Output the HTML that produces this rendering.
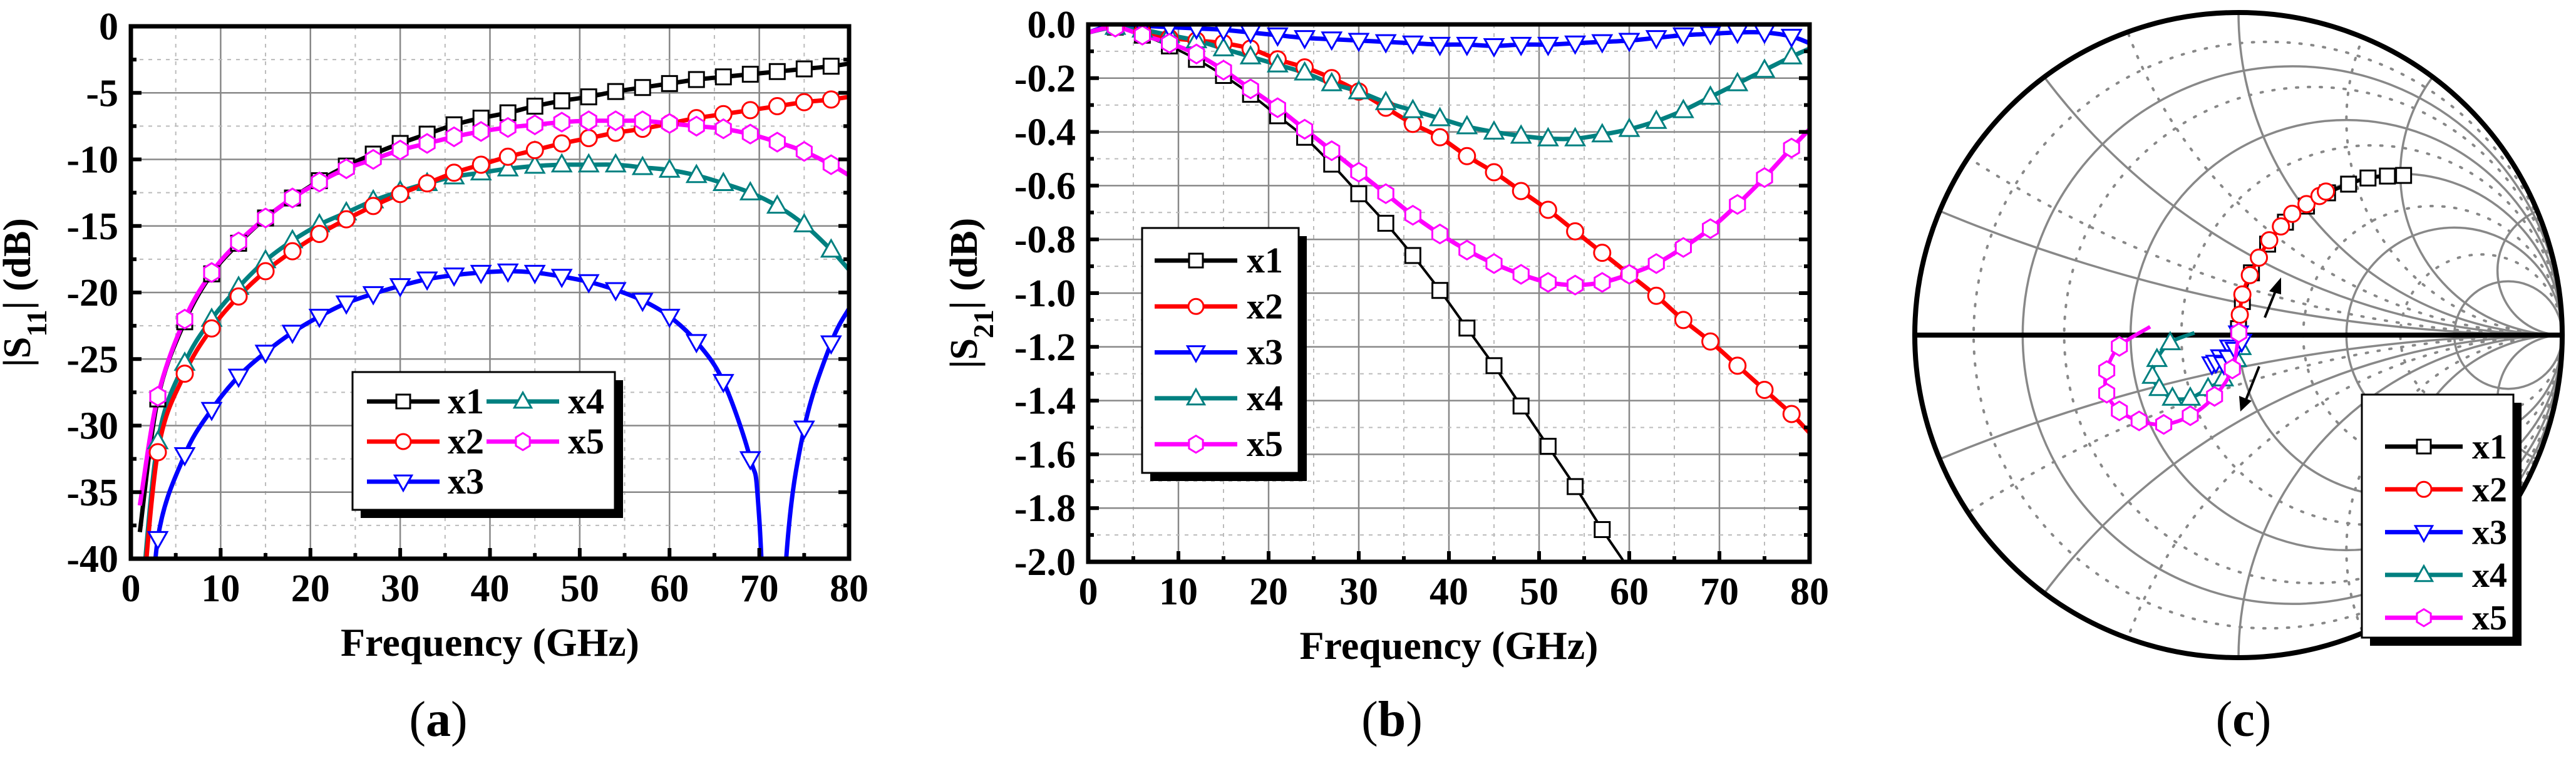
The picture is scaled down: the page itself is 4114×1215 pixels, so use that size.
<!DOCTYPE html>
<html><head><meta charset="utf-8"><style>
html,body{margin:0;padding:0;background:#fff;width:4114px;height:1215px;overflow:hidden;}
svg{display:block;font-family:"Liberation Serif","DejaVu Serif",serif;}
</style></head><body>
<svg id="fig" width="4114" height="1215" viewBox="0 0 4114 1215" xmlns="http://www.w3.org/2000/svg">
<defs>
<clipPath id="clipA"><rect x="209" y="42" width="1147" height="850"/></clipPath>
<clipPath id="clipB"><rect x="1738" y="39" width="1152" height="858"/></clipPath>
<clipPath id="clipC"><ellipse cx="3575" cy="535" rx="517" ry="515"/></clipPath>
</defs>
<g id="chartA"></g>
<g id="chartB"></g>
<g id="chartC"></g>
<text x="700" y="1175" font-size="80" text-anchor="middle">(<tspan font-weight="bold">a</tspan>)</text>
<text x="2223" y="1175" font-size="80" text-anchor="middle">(<tspan font-weight="bold">b</tspan>)</text>
<text x="3583" y="1175" font-size="80" text-anchor="middle">(<tspan font-weight="bold">c</tspan>)</text>
</svg>
<script>
// ---------- data ----------
const seriesNames = ["x1","x2","x3","x4","x5"];
const seriesColors = ["#000000","#ff0000","#0000ff","#008080","#ff00ff"];
const seriesMarkers = ["square","circle","down","up","hex"];

const freqA = [1,3,6,9,12,15,18,21,24,27,30,33,36,39,42,45,48,51,54,57,60,63,66,69,72,75,78,80];
const s11_x1 = [-38,-28,-22.2,-18.6,-16.3,-14.4,-12.9,-11.6,-10.5,-9.6,-8.8,-8.1,-7.4,-6.9,-6.5,-6.0,-5.6,-5.3,-4.9,-4.6,-4.3,-4.0,-3.8,-3.6,-3.4,-3.2,-3.0,-2.8];
const s11_x2 = [-46,-32,-26.1,-22.7,-20.3,-18.4,-16.9,-15.6,-14.5,-13.5,-12.6,-11.8,-11.0,-10.4,-9.8,-9.3,-8.8,-8.4,-8.0,-7.7,-7.3,-6.9,-6.6,-6.3,-6.0,-5.7,-5.5,-5.3];
const s11_x4 = [-45,-31.2,-25.3,-22.0,-19.6,-17.6,-16.1,-14.9,-14.0,-13.1,-12.4,-11.8,-11.3,-11.0,-10.7,-10.5,-10.4,-10.4,-10.4,-10.6,-10.8,-11.2,-11.8,-12.5,-13.5,-14.9,-16.8,-18.3];
const s11_x5 = [-36,-27.8,-22.0,-18.5,-16.2,-14.4,-12.9,-11.7,-10.7,-10.0,-9.3,-8.8,-8.3,-7.9,-7.6,-7.4,-7.2,-7.1,-7.1,-7.1,-7.3,-7.5,-7.7,-8.1,-8.7,-9.4,-10.4,-11.2];
const freqA3 = [2,3,6,9,12,15,18,21,24,27,30,33,36,39,42,45,48,51,54,57,60,63,66,69,70,71.8,73,75,78,80];
const s11_x3 = [-50,-38.5,-32.2,-28.8,-26.3,-24.5,-23.0,-21.8,-20.8,-20.1,-19.5,-19.0,-18.7,-18.5,-18.4,-18.5,-18.8,-19.2,-19.8,-20.6,-21.8,-23.7,-26.7,-32.5,-37,-60,-40,-30.2,-23.8,-21.2];
const yTicksA = [0,-5,-10,-15,-20,-25,-30,-35,-40];
const xTicks = [0,10,20,30,40,50,60,70,80];

const freqB = [0,3,6,9,12,15,18,21,24,27,30,33,36,39,42,45,48,51,54,57,60,63,66,69,72,75,78,80];
const s21_x1 = [-0.03,-0.01,-0.04,-0.08,-0.13,-0.19,-0.26,-0.34,-0.42,-0.52,-0.63,-0.74,-0.86,-0.99,-1.13,-1.27,-1.42,-1.57,-1.72,-1.88,-2.03,-2.2,-2.37,-2.55,-2.72,-2.9,-3.1,-3.2];
const s21_x2 = [-0.03,-0.01,-0.03,-0.05,-0.06,-0.07,-0.09,-0.13,-0.16,-0.2,-0.25,-0.31,-0.37,-0.42,-0.49,-0.55,-0.62,-0.69,-0.77,-0.85,-0.93,-1.01,-1.1,-1.18,-1.27,-1.36,-1.45,-1.52];
const s21_x3 = [-0.03,0,-0.005,-0.01,-0.015,-0.02,-0.03,-0.04,-0.05,-0.055,-0.06,-0.065,-0.07,-0.075,-0.075,-0.08,-0.075,-0.075,-0.07,-0.065,-0.06,-0.05,-0.04,-0.035,-0.03,-0.03,-0.045,-0.07];
const s21_x4 = [-0.03,-0.01,-0.02,-0.04,-0.06,-0.09,-0.12,-0.15,-0.18,-0.22,-0.25,-0.29,-0.32,-0.35,-0.38,-0.4,-0.415,-0.425,-0.425,-0.41,-0.39,-0.36,-0.32,-0.27,-0.22,-0.17,-0.12,-0.09];
const s21_x5 = [-0.03,-0.01,-0.04,-0.07,-0.11,-0.17,-0.24,-0.31,-0.39,-0.47,-0.55,-0.63,-0.71,-0.78,-0.84,-0.89,-0.93,-0.96,-0.97,-0.96,-0.93,-0.89,-0.83,-0.76,-0.67,-0.57,-0.46,-0.39];
const yTicksB = ["0.0","-0.2","-0.4","-0.6","-0.8","-1.0","-1.2","-1.4","-1.6","-1.8","-2.0"];

// Smith chart reflection coefficient (real, imag)
const g1_re = [0.0,0.012,0.04,0.09,0.145,0.21,0.275,0.34,0.40,0.46,0.51];
const g1_im = [0.02,0.104,0.193,0.282,0.35,0.40,0.441,0.468,0.487,0.493,0.495];
const g2_re = [0.0,0.004,0.012,0.035,0.063,0.095,0.131,0.166,0.21,0.25,0.27];
const g2_im = [0.02,0.063,0.126,0.186,0.24,0.294,0.337,0.376,0.406,0.431,0.445];
const g3_re = [0.0,-0.027,-0.055,-0.082,-0.07,-0.045,-0.03,-0.01,0.01];
const g3_im = [0.006,-0.038,-0.068,-0.09,-0.085,-0.09,-0.07,-0.045,-0.02];
const g4_re = [-0.136,-0.211,-0.252,-0.266,-0.245,-0.204,-0.149,-0.094,-0.047,-0.006,0.008];
const g4_im = [0.007,-0.023,-0.075,-0.127,-0.165,-0.195,-0.195,-0.165,-0.135,-0.075,-0.038];
const g5_re = [-0.273,-0.368,-0.407,-0.407,-0.368,-0.307,-0.231,-0.149,-0.074,-0.019,0.001];
const g5_im = [0.026,-0.035,-0.11,-0.18,-0.235,-0.266,-0.277,-0.25,-0.19,-0.105,0.007];
const smithSolidR = [0.2,0.5,1,2,5];
const smithDotR = [0.1,0.3,0.7,1.5,3];
const smithSolidX = [0.2,0.5,1,2,5];
const smithDotX = [0.3,0.7,1.5];

// ---------- helpers ----------
const NS="http://www.w3.org/2000/svg";
function mk(tag,attrs,parent){const e=document.createElementNS(NS,tag);for(const k in attrs)e.setAttribute(k,attrs[k]);if(parent)parent.appendChild(e);return e;}
function smoothPath(pts){
  if(pts.length<2)return "";
  let d="M"+pts[0][0].toFixed(1)+","+pts[0][1].toFixed(1);
  for(let i=0;i<pts.length-1;i++){
    const p0=pts[Math.max(0,i-1)],p1=pts[i],p2=pts[i+1],p3=pts[Math.min(pts.length-1,i+2)];
    const c1=[p1[0]+(p2[0]-p0[0])/6,p1[1]+(p2[1]-p0[1])/6];
    const c2=[p2[0]-(p3[0]-p1[0])/6,p2[1]-(p3[1]-p1[1])/6];
    d+="C"+c1[0].toFixed(1)+","+c1[1].toFixed(1)+" "+c2[0].toFixed(1)+","+c2[1].toFixed(1)+" "+p2[0].toFixed(1)+","+p2[1].toFixed(1);
  }
  return d;
}
function marker(parent,type,x,y,color,s){
  let e;
  if(type==="square")e=mk("rect",{x:x-s/2,y:y-s/2,width:s,height:s},parent);
  else if(type==="circle")e=mk("circle",{cx:x,cy:y,r:s/2+1},parent);
  else if(type==="down")e=mk("polygon",{points:`${x-s*0.62},${y-s*0.45} ${x+s*0.62},${y-s*0.45} ${x},${y+s*0.65}`},parent);
  else if(type==="up")e=mk("polygon",{points:`${x-s*0.62},${y+s*0.45} ${x+s*0.62},${y+s*0.45} ${x},${y-s*0.65}`},parent);
  else {let p=[];for(let k=0;k<6;k++){const a=Math.PI/6+k*Math.PI/3;p.push((x+s*0.58*Math.cos(a)).toFixed(1)+","+(y+s*0.62*Math.sin(a)).toFixed(1));}
        e=mk("polygon",{points:p.join(" ")},parent);}
  e.setAttribute("fill","#fff");e.setAttribute("stroke",color);e.setAttribute("stroke-width","3");
  
  
  return e;
}

// ---------- cartesian chart ----------
function cartesian(g,o){
  const X=v=>o.x0+(v-o.xmin)/(o.xmax-o.xmin)*(o.x1-o.x0);
  const Y=v=>o.y0+(o.ymax-v)/(o.ymax-o.ymin)*(o.y1-o.y0);
  const grid=mk("g",{},g);
  
  
  for(let v=o.xmin;v<=o.xmax+1e-9;v+=o.xminor){
    const major=Math.abs((v/o.xmajor)-Math.round(v/o.xmajor))<1e-6;
    if(v===o.xmin||v===o.xmax)continue;
    mk("line",{x1:X(v),x2:X(v),y1:o.y0,y2:o.y1,stroke:major?"#888":"#bbb","stroke-width":major?2.5:2,"stroke-dasharray":major?"none":"6,8"},grid);
  }
  const ny=Math.round((o.ymax-o.ymin)/o.yminor);
  for(let i=1;i<ny;i++){
    const v=o.ymax-i*o.yminor;const major=i%2===0;
    mk("line",{x1:o.x0,x2:o.x1,y1:Y(v),y2:Y(v),stroke:major?"#888":"#bbb","stroke-width":major?2.5:2,"stroke-dasharray":major?"none":"6,8"},grid);
  }
  const sg=mk("g",{"clip-path":`url(#${o.clip})`},g);
  o.series.forEach((s)=>{
    const pts=s.f.map((f,i)=>[X(f),Y(s.v[i])]);
    const p=mk("path",{d:smoothPath(pts),fill:"none",stroke:seriesColors[s.idx],"stroke-width":s.w||7,"stroke-linejoin":"round"},sg);
    
    
  });
  o.series.forEach(s=>{
    s.f.forEach((f,i)=>{
      if(f%3!==0||f===0)return;const v=s.v[i];if(v<o.ymin||v>o.ymax)return;
      marker(sg,seriesMarkers[s.idx],X(f),Y(v),seriesColors[s.idx],24);
    });
  });
  const ax=mk("g",{},g);
  
  
  mk("rect",{x:o.x0,y:o.y0,width:o.x1-o.x0,height:o.y1-o.y0,fill:"none",stroke:"#000","stroke-width":7},ax);
  for(let v=o.xmin;v<=o.xmax+1e-9;v+=o.xminor){
    const major=Math.abs((v/o.xmajor)-Math.round(v/o.xmajor))<1e-6;
    mk("line",{x1:X(v),x2:X(v),y1:o.y1,y2:o.y1-(major?17:9),stroke:"#000","stroke-width":6},ax);
  }
  for(let i=0;i<=ny;i++){
    const y=Y(o.ymax-i*o.yminor);const major=i%2===0;
    mk("line",{x1:o.x0,x2:o.x0+(major?17:9),y1:y,y2:y,stroke:"#000","stroke-width":6},ax);
    mk("line",{x1:o.x1,x2:o.x1-(major?17:9),y1:y,y2:y,stroke:"#000","stroke-width":6},ax);
  }
  xTicks.forEach(t=>{
    const e=mk("text",{x:X(t),y:o.y1+68,"font-size":62,"font-weight":"bold","text-anchor":"middle"},ax);e.textContent=t;
    
    
  });
  o.yTickLabels.forEach((t)=>{
    const e=mk("text",{x:o.x0-20,y:Y(parseFloat(t))+21,"font-size":62,"font-weight":"bold","text-anchor":"end"},ax);e.textContent=t;
    
    
  });
  const xt=mk("text",{x:(o.x0+o.x1)/2,y:o.y1+155,"font-size":64,"font-weight":"bold","text-anchor":"middle"},ax);
  xt.textContent="Frequency (GHz)";
  
  
  const yt=mk("text",{x:0,y:0,"font-size":62,"font-weight":"bold","text-anchor":"middle",transform:`translate(${o.ytx},${(o.y0+o.y1)/2}) rotate(-90)`},ax);
  yt.innerHTML=`|S<tspan baseline-shift="sub" font-size="46">${o.sub}</tspan>| (dB)`;
  
  
}

function legend(g,box,entries,font){
  const lg=mk("g",{},g);
  
  
  mk("rect",{x:box.x+13,y:box.y+13,width:box.w,height:box.h,fill:"#000"},lg);
  mk("rect",{x:box.x,y:box.y,width:box.w,height:box.h,fill:"#fff",stroke:"#000","stroke-width":3},lg);
  entries.forEach(en=>{
    const eg=mk("g",{},lg);
    
    
    mk("line",{x1:en.lx0,x2:en.lx1,y1:en.y,y2:en.y,stroke:seriesColors[en.idx],"stroke-width":7},eg);
    marker(eg,seriesMarkers[en.idx],(en.lx0+en.lx1)/2,en.y,seriesColors[en.idx],22);
    const t=mk("text",{x:en.tx,y:en.y+19,"font-size":font,"font-weight":"bold"},eg);t.textContent=seriesNames[en.idx];
  });
}

// chart a
const gA=document.getElementById("chartA");
cartesian(gA,{x0:209,x1:1356,y0:42,y1:892,xmin:0,xmax:80,ymin:-40,ymax:0,xmajor:10,xminor:5,yminor:2.5,clip:"clipA",
  yTickLabels:yTicksA.map(String),sub:"11",ytx:48,
  series:[{idx:0,f:freqA,v:s11_x1},{idx:3,f:freqA,v:s11_x4},{idx:1,f:freqA,v:s11_x2},{idx:4,f:freqA,v:s11_x5},{idx:2,f:freqA3,v:s11_x3}]});
legend(gA,{x:563,y:594,w:419,h:220},[
  {idx:0,lx0:586,lx1:702,y:641,tx:715},{idx:1,lx0:586,lx1:702,y:705,tx:715},{idx:2,lx0:586,lx1:702,y:769,tx:715},
  {idx:3,lx0:777,lx1:893,y:641,tx:907},{idx:4,lx0:777,lx1:893,y:705,tx:907}],58);

// chart b
const gB=document.getElementById("chartB");
cartesian(gB,{x0:1738,x1:2890,y0:39,y1:897,xmin:0,xmax:80,ymin:-2,ymax:0,xmajor:10,xminor:5,yminor:0.1,clip:"clipB",
  yTickLabels:yTicksB,sub:"21",ytx:1560,
  series:[{idx:0,f:freqB,v:s21_x1,w:4},{idx:1,f:freqB,v:s21_x2},{idx:3,f:freqB,v:s21_x4},{idx:2,f:freqB,v:s21_x3},{idx:4,f:freqB,v:s21_x5}]});
legend(gB,{x:1824,y:364,w:250,h:391},[0,1,2,3,4].map((k,i)=>({idx:k,lx0:1844,lx1:1976,y:416+i*73.3,tx:1991})),58);

// chart c
const gC=document.getElementById("chartC");
const cx=3575,cy=535,rx=517,ry=515;
const SX=u=>cx+u*rx, SY=v=>cy-v*ry;
const grid=mk("g",{"clip-path":"url(#clipC)"},gC);


function rCircle(r,dot){const c=r/(r+1),rad=1/(r+1);mk("ellipse",{cx:SX(c),cy:SY(0),rx:rad*rx,ry:rad*ry,fill:"none",stroke:"#888","stroke-width":dot?4:3.5,"stroke-dasharray":dot?"3,16":"none","stroke-linecap":"round"},grid);}
function xCircle(x,dot){[1,-1].forEach(sg=>{const rad=1/x;mk("ellipse",{cx:SX(1),cy:SY(sg*rad),rx:rad*rx,ry:rad*ry,fill:"none",stroke:"#888","stroke-width":dot?4:3.5,"stroke-dasharray":dot?"3,16":"none","stroke-linecap":"round"},grid);});}
smithDotR.forEach(r=>rCircle(r,true));smithDotX.forEach(x=>xCircle(x,true));
smithSolidR.forEach(r=>rCircle(r,false));smithSolidX.forEach(x=>xCircle(x,false));
mk("line",{x1:cx-rx,x2:cx+rx,y1:cy,y2:cy,stroke:"#000","stroke-width":8},gC);
mk("ellipse",{cx:cx,cy:cy,rx:rx,ry:ry,fill:"none",stroke:"#000","stroke-width":8},gC);
const traces=[[g1_re,g1_im,0],[g2_re,g2_im,1],[g4_re,g4_im,3],[g3_re,g3_im,2],[g5_re,g5_im,4]];
traces.forEach(([re,im,idx])=>{
  const pts=re.map((u,i)=>[SX(u),SY(im[i])]);
  const p=mk("path",{d:smoothPath(pts),fill:"none",stroke:seriesColors[idx],"stroke-width":6},gC);
  
  
  pts.forEach((q,i)=>{if(i===0&&idx!==2&&idx!==0)return;marker(gC,seriesMarkers[idx],q[0],q[1],seriesColors[idx],24);});
});
const ar=mk("g",{},gC);


mk("line",{x1:3617,y1:507,x2:3636,y2:460,stroke:"#000","stroke-width":4},ar);
mk("polygon",{points:"3643,443 3624,465 3643,470"},ar);
mk("line",{x1:3608,y1:585,x2:3587,y2:638,stroke:"#000","stroke-width":4},ar);
mk("polygon",{points:"3578,657 3576,632 3596,640"},ar);
legend(gC,{x:3772,y:630,w:242,h:388},[0,1,2,3,4].map((k,i)=>({idx:k,lx0:3809,lx1:3933,y:713+i*68.3,tx:3948})),56);
</script>
</body></html>
